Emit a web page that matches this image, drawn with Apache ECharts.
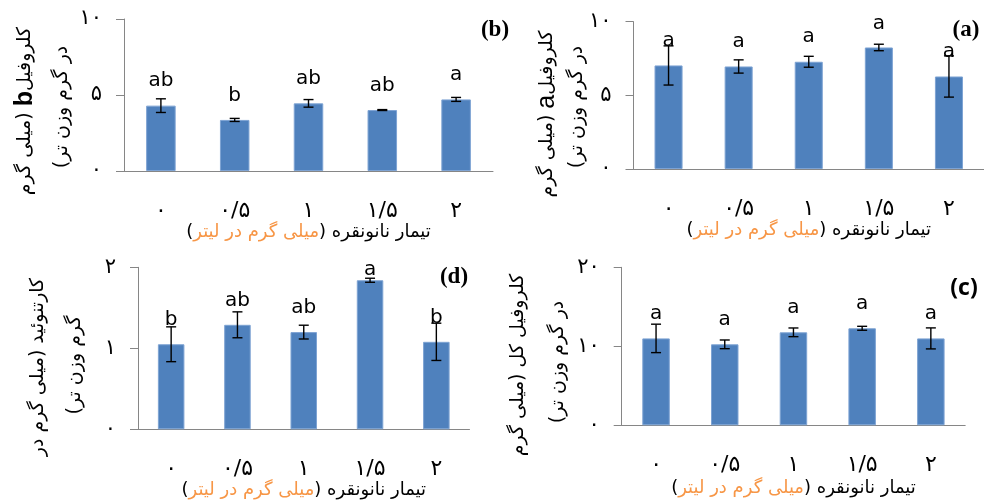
<!DOCTYPE html>
<html><head><meta charset="utf-8">
<script src="https://cdn.jsdelivr.net/npm/echarts@6/dist/echarts.min.js"></script>
<style>html,body{margin:0;padding:0;background:#fff}#c{width:984px;height:504px;direction:rtl}</style>
</head><body><div id="c"></div><script>
// ---- data ----
const categories = ['۰', '۰/۵', '۱', '۱/۵', '۲'];
const chlA = [7.03, 6.96, 7.28, 8.25, 6.28];
const errA = [1.33, 0.45, 0.37, 0.22, 1.40];
const lettersA = ['a', 'a', 'a', 'a', 'a'];
const chlB = [4.30, 3.36, 4.45, 4.01, 4.71];
const errB = [0.45, 0.10, 0.25, 0.03, 0.13];
const lettersB = ['ab', 'b', 'ab', 'ab', 'a'];
const chlTotal = [11.0, 10.25, 11.77, 12.28, 11.0];
const errTotal = [1.80, 0.55, 0.55, 0.25, 1.33];
const lettersTotal = ['a', 'a', 'a', 'a', 'a'];
const carot = [1.05, 1.29, 1.20, 1.84, 1.08];
const errCarot = [0.215, 0.16, 0.085, 0.025, 0.23];
const lettersCarot = ['b', 'ab', 'ab', 'a', 'b'];
const faDigits = ['۰', '۱', '۲', '۳', '۴', '۵', '۶', '۷', '۸', '۹'];

function fa(v) { return String(v).replace(/\d/g, d => faDigits[+d]); }

const FA = '"DejaVu Sans"';
const BAR = '#4F81BD';
const AXIS = '#868686';
const ORANGE = '#F79646';

const panels = [
  { values: chlB, errs: errB, letters: lettersB, max: 10, interval: 5,
    grid: { left: 124, top: 19, width: 369, height: 152 }, nameGap: 50 },
  { values: chlA, errs: errA, letters: lettersA, max: 10, interval: 5,
    grid: { left: 633.5, top: 21.7, width: 355, height: 147.3 }, nameGap: 50 },
  { values: carot, errs: errCarot, letters: lettersCarot, max: 2, interval: 1,
    grid: { left: 138, top: 267.3, width: 331.5, height: 162 }, nameGap: 50 },
  { values: chlTotal, errs: errTotal, letters: lettersTotal, max: 20, interval: 10,
    grid: { left: 621.7, top: 267.3, width: 343.5, height: 158 }, nameGap: 54 }
];

const grids = [], xAxes = [], yAxes = [], series = [];
panels.forEach((p, i) => {
  grids.push(Object.assign({ containLabel: false }, p.grid));
  xAxes.push({
    type: 'category', gridIndex: i, data: categories,
    axisTick: { show: false },
    axisLine: { lineStyle: { color: AXIS, width: 1 } },
    axisLabel: { fontFamily: FA, fontSize: 22, color: '#000', margin: 29 },
    name: '{k|)}{o|میلی گرم در لیتر}{k|تیمار نانونقره (}',
    nameLocation: 'middle', nameGap: p.nameGap,
    nameTextStyle: {
      rich: {
        k: { fontFamily: FA, fontSize: 18, color: '#000' },
        o: { fontFamily: FA, fontSize: 18, color: ORANGE }
      }
    }
  });
  yAxes.push({
    type: 'value', gridIndex: i, min: 0, max: p.max, interval: p.interval,
    axisLine: { show: true, lineStyle: { color: AXIS, width: 1 } },
    axisTick: { show: true, length: 8, lineStyle: { color: AXIS } },
    splitLine: { show: false },
    axisLabel: { formatter: v => fa(v), fontFamily: FA, fontSize: 21, color: '#000', margin: 22 }
  });
  const d = categories.map((c, k) => [k, p.values[k], p.errs[k]]);
  series.push({
    type: 'bar', xAxisIndex: i, yAxisIndex: i, barWidth: '40%',
    data: p.values, itemStyle: { color: BAR, borderColor: '#7ea3d3', borderWidth: 1 },
    silent: true, animation: false
  });
  series.push({
    type: 'custom', xAxisIndex: i, yAxisIndex: i, data: d, encode: { x: 0, y: 1 },
    silent: true, animation: false, z: 5,
    renderItem: (params, api) => {
      const x = api.value(0), v = api.value(1), e = api.value(2);
      const hi = api.coord([x, v + e]), lo = api.coord([x, v - e]);
      const w = 5;
      const st = { stroke: '#000', lineWidth: 1.4 };
      return { type: 'group', children: [
        { type: 'line', shape: { x1: hi[0], y1: hi[1], x2: lo[0], y2: lo[1] }, style: st },
        { type: 'line', shape: { x1: hi[0] - w, y1: hi[1], x2: hi[0] + w, y2: hi[1] }, style: st },
        { type: 'line', shape: { x1: lo[0] - w, y1: lo[1], x2: lo[0] + w, y2: lo[1] }, style: st }
      ] };
    }
  });
  series.push({
    type: 'custom', xAxisIndex: i, yAxisIndex: i, data: d, encode: { x: 0, y: 1 },
    silent: true, animation: false, z: 6,
    renderItem: (params, api) => {
      const x = api.value(0), v = api.value(1);
      const top = api.coord([x, v]);
      const gTop = params.coordSys.y;
      let y = top[1] - 14.5;
      const h = 22;
      if (y - h < gTop - 10) y = gTop - 10 + h;
      return { type: 'text', style: {
        text: p.letters[params.dataIndex], x: top[0], y: y,
        align: 'center', verticalAlign: 'bottom',
        font: '20px "DejaVu Sans"', fill: '#000'
      } };
    }
  });
});

function yName(x, y, rich) {
  return { type: 'text', x: x, y: y, rotation: Math.PI / 2, silent: true,
    style: { text: rich, align: 'center', verticalAlign: 'middle',
      rich: {
        n: { fontFamily: FA, fontSize: 19, color: '#000' },
        l: { fontFamily: '"Liberation Sans"', fontSize: 25, color: '#000' },
        lb: { fontFamily: '"Liberation Sans"', fontSize: 25, fontWeight: 'bold', color: '#000' }
      } } };
}
function tag(x, y, t, fam) {
  return { type: 'text', x: x, y: y, silent: true,
    style: { text: t, align: 'center', verticalAlign: 'middle',
      font: 'bold 23px ' + fam, fill: '#000' } };
}

const graphics = [
  yName(25, 111, '{n|(میلی گرم}{n| }{lb|b}{n|کلروفیل}'),
  yName(62, 107, '{n|در گرم وزن تر)}'),
  yName(547, 111, '{n|(میلی گرم}{n| }{l|a}{n| کلروفیل}'),
  yName(577, 107, '{n|در گرم وزن تر)}'),
  yName(38, 367, '{n|کارتنوئید (میلی گرم در}'),
  yName(75, 365, '{n|گرم وزن تر)}'),
  yName(518, 365, '{n|کلروفیل کل (میلی گرم}'),
  yName(558, 362, '{n|در گرم وزن تر)}'),
  tag(495, 30, '(b)', '"Liberation Serif"'),
  tag(966, 30, '(a)', '"Liberation Serif"'),
  tag(454, 277, '(d)', '"Liberation Serif"'),
  tag(964, 288, '(c)', '"Open Sans"')
];

const chart = echarts.init(document.getElementById('c'), null, { renderer: 'canvas' });
chart.setOption({
  animation: false,
  backgroundColor: '#fff',
  grid: grids, xAxis: xAxes, yAxis: yAxes, series: series,
  graphic: graphics
});
</script></body></html>
